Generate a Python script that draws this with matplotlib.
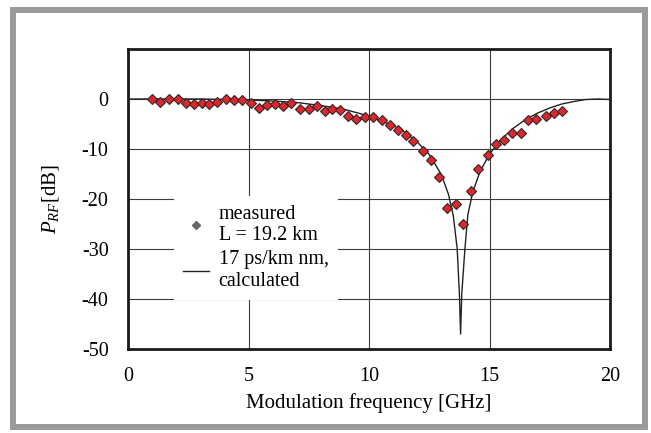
import matplotlib
matplotlib.use("Agg")
import matplotlib.pyplot as plt
from matplotlib.lines import Line2D
from matplotlib.patches import Rectangle

plt.rcParams['font.family'] = ['Liberation Serif', 'DejaVu Serif']
plt.rcParams['mathtext.fontset'] = 'custom'
plt.rcParams['mathtext.rm'] = 'Liberation Serif'
plt.rcParams['mathtext.it'] = 'Liberation Serif:italic'
plt.rcParams['axes.unicode_minus'] = False

# measured points (GHz, dB)
meas_f = [1.01, 1.34, 1.69, 2.06, 2.39, 2.73, 3.06, 3.36, 3.71, 4.07, 4.40, 4.74,
          5.12, 5.45, 5.77, 6.10, 6.45, 6.78, 7.14, 7.50, 7.83, 8.16, 8.48, 8.80,
          9.14, 9.46, 9.83, 10.18, 10.53, 10.87, 11.22, 11.52, 11.84, 12.23, 12.56,
          12.90, 13.22, 13.60, 13.91, 14.23, 14.54, 14.95, 15.27, 15.62, 15.93,
          16.29, 16.58, 16.93, 17.33, 17.68, 18.00]
meas_db = [0.0, -0.5, 0.0, 0.0, -0.7, -1.0, -0.7, -1.0, -0.5, 0.0, -0.2, -0.2,
           -0.7, -1.7, -1.2, -0.9, -1.3, -0.7, -1.9, -1.9, -1.3, -2.3, -1.9, -2.2,
           -3.4, -3.9, -3.6, -3.6, -4.2, -5.1, -6.1, -7.2, -8.3, -10.4, -12.2,
           -15.5, -21.7, -21.0, -25.0, -18.3, -13.9, -11.1, -9.0, -8.1, -6.7,
           -6.7, -4.2, -4.0, -3.4, -2.7, -2.3]

# calculated curve
calc_f = [0, 1, 2, 3, 4, 5, 6, 7, 8, 9, 10, 11, 11.5, 12, 12.5, 13, 13.3, 13.5,
          13.66, 13.75, 13.8, 13.85, 13.98, 14.1, 14.3, 14.6, 15, 15.5, 16, 16.5,
          17, 17.5, 18, 18.5, 19, 19.5, 20]
calc_db = [0, 0, 0, 0, -0.1, -0.2, -0.4, -0.7, -1.3, -2.1, -3.4, -5.3, -6.7,
           -8.6, -11.1, -15.1, -19.1, -23.4, -30.0, -38.9, -47.0, -38.9, -30.0,
           -23.2, -18.7, -14.6, -11.0, -8.0, -5.8, -4.1, -2.8, -1.8, -1.0, -0.5,
           -0.1, 0, -0.1]

fig = plt.figure(figsize=(6.51, 4.33), dpi=100)
ax = fig.add_axes([128 / 651, 84 / 433, 482 / 651, 300 / 433])

ax.plot(calc_f, calc_db, color='#222222', lw=1.0, zorder=3)
ax.plot(meas_f, meas_db, 'D', ms=5.3, mfc='#e4232b', mec='#2a2a2a', mew=0.8,
        ls='none', zorder=4)

ax.set_xlim(0, 20)
ax.set_ylim(-50, 10)
ax.set_xticks([0, 5, 10, 15, 20])
ax.set_yticks([-50, -40, -30, -20, -10, 0])
ax.tick_params(length=0, labelsize=14.5)
ax.tick_params(axis='x', pad=13)
ax.tick_params(axis='y', pad=14)
ax.grid(True, color='#3a3a3a', lw=0.8)
ax.set_axisbelow(True)
for s in ax.spines.values():
    s.set_linewidth(2.0)
    s.set_color('#1a1a1a')

ax.set_xlabel('Modulation frequency [GHz]', fontsize=15, labelpad=5)
ax.set_ylabel(r'$P_{RF}$[dB]', fontsize=15, labelpad=15)

handles = [Line2D([], [], marker='D', ms=4, mfc='#666666', mec='#666666', ls='none'),
           Line2D([], [], color='#222222', lw=1.0)]
labels = ['measured\nL = 19.2 km', '17 ps/km nm,\ncalculated']
leg = ax.legend(handles, labels, loc='upper left', bbox_to_anchor=(0.075, 0.545),
                fontsize=14.5, frameon=True, fancybox=False, framealpha=1,
                edgecolor='none', facecolor='white', handlelength=1.3,
                handletextpad=0.45, labelspacing=0.25, borderpad=0.45)

fig.patches.append(Rectangle((13 / 651, 6 / 433), 632 / 651, 417 / 433,
                             transform=fig.transFigure, fill=False,
                             edgecolor='#9a9a9a', lw=4.3))

fig.savefig('out.png', dpi=100)
